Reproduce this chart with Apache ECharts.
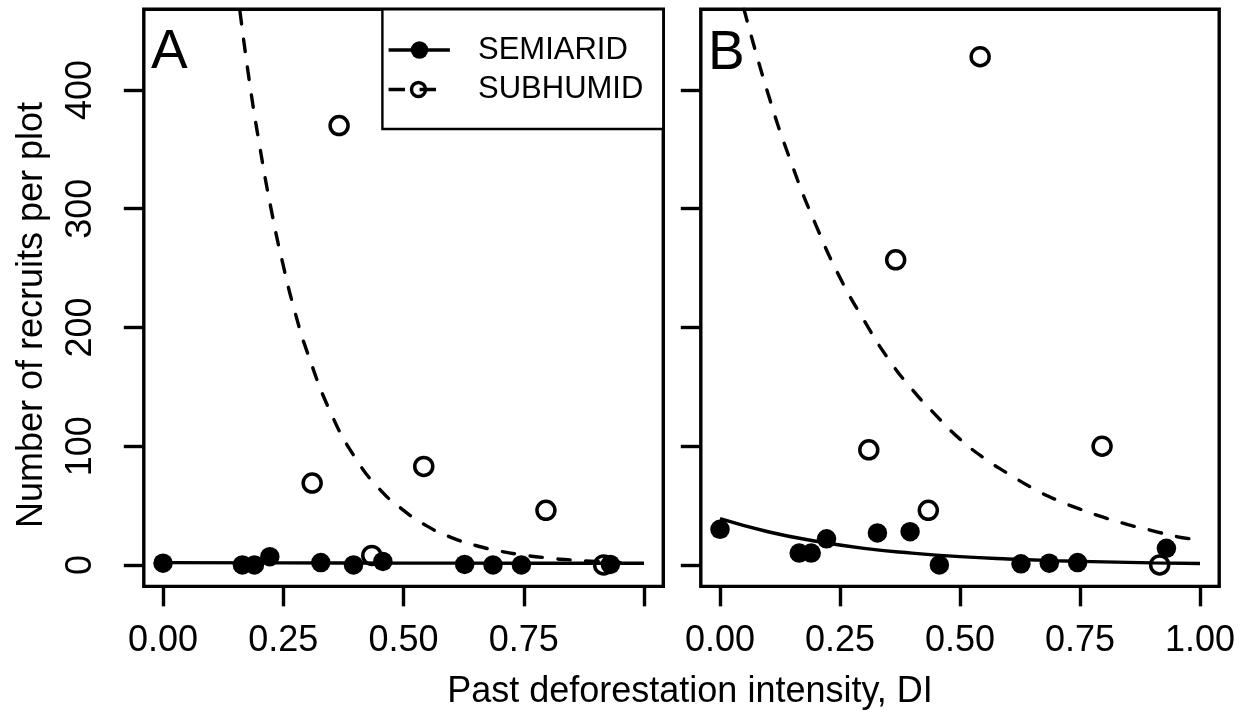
<!DOCTYPE html>
<html>
<head>
<meta charset="utf-8">
<script src="https://cdn.jsdelivr.net/npm/echarts@6/dist/echarts.min.js"></script>
<style>
html,body{margin:0;padding:0;background:#fff;}
#chart{width:1253px;height:721px;}
</style>
</head>
<body>
<div id="chart"></div>
<script>
// ---- data ----
const xTicks = [0, 0.25, 0.5, 0.75, 1.0];
const xLabelsA = [0, 0.25, 0.5, 0.75];
const xLabelsB = [0, 0.25, 0.5, 0.75, 1.0];
const yTicks = [0, 100, 200, 300, 400];

// plot deforestation intensity (DI) values
const diSemi = [0.000, 0.165, 0.190, 0.222, 0.328, 0.396, 0.457, 0.627, 0.686, 0.745, 0.930];
const diSub  = [0.310, 0.366, 0.434, 0.542, 0.796, 0.916];

// panel A: recruits per plot
const semiA = [1.5, 0, 0, 7, 2, 0, 3, 0.5, 0, 0, 0.5];
const subA  = [69, 370, 8, 83, 46, 0];
// panel B: recruits per plot
const semiB = [30, 10, 10, 22, 27, 28, 0, 1, 1.5, 2, 14];
const subB  = [97, 257, 46, 428, 100, 0];

// fitted curves
const fitSemiAx = [0, 0.25, 0.5, 0.75, 1.0];
const fitSemiAy = [2, 1.8, 1.6, 1.5, 1.4];
const fitSubAx = [0.16, 0.18, 0.20, 0.225, 0.25, 0.275, 0.30, 0.35, 0.40, 0.45, 0.50, 0.55, 0.60, 0.65, 0.70, 0.75, 0.80, 0.85, 0.90, 0.95];
const fitSubAy = [466, 406, 355, 299, 252, 212, 179, 127, 90, 64, 46, 32.5, 23, 16.4, 11.7, 8.3, 5.9, 4.2, 3.0, 2.1];
const fitSemiBx = [0, 0.1, 0.2, 0.3, 0.4, 0.5, 0.6, 0.7, 0.8, 0.9, 1.0];
const fitSemiBy = [39, 28, 20, 14, 10, 7, 5, 3.6, 2.6, 1.8, 1.3];
const fitSubBx = [0.05, 0.10, 0.15, 0.20, 0.25, 0.30, 0.35, 0.40, 0.45, 0.50, 0.55, 0.60, 0.65, 0.70, 0.75, 0.80, 0.85, 0.90, 0.95, 0.98];
const fitSubBy = [468, 397, 337, 286, 242, 206, 174, 148, 126, 106, 90, 77, 65, 55, 47, 40, 34, 29, 24, 22];

const legendNames = ['SEMIARID', 'SUBHUMID'];
const panelNames = ['A', 'B'];
const xTitle = 'Past deforestation intensity, DI';
const yTitle = 'Number of recruits per plot';

// ---- helpers ----
const zip = (xs, ys) => xs.map((x, i) => [x, ys[i]]);
const FONT = '"Liberation Sans", Arial, Helvetica, sans-serif';
const LW = 3.4;

function xAxisCfg(idx, labels) {
  return {
    type: 'value', gridIndex: idx, min: -0.04, max: 1.04,
    axisLine: { show: false, onZero: false },
    splitLine: { show: false },
    axisTick: { show: true, inside: false, length: 20, customValues: xTicks,
      lineStyle: { color: '#000', width: LW } },
    axisLabel: { show: true, customValues: labels, margin: 37, fontSize: 36,
      fontFamily: FONT, color: '#000', formatter: v => Number(v).toFixed(2) }
  };
}
function yAxisCfg(idx, showLabels) {
  return {
    type: 'value', gridIndex: idx, min: -18, max: 468,
    axisLine: { show: false, onZero: false },
    splitLine: { show: false },
    axisTick: { show: true, inside: false, length: 20, customValues: yTicks,
      lineStyle: { color: '#000', width: LW } },
    axisLabel: { show: showLabels, customValues: yTicks, margin: 45, rotate: 90,
      fontSize: 36, fontFamily: FONT, color: '#000', formatter: v => String(v) }
  };
}
function scatterFilled(idx, xs, ys) {
  return { type: 'scatter', xAxisIndex: idx, yAxisIndex: idx, data: zip(xs, ys),
    symbol: 'circle', symbolSize: 19.5, silent: true, z: 4,
    itemStyle: { color: '#000', opacity: 1 } };
}
function scatterOpen(idx, xs, ys) {
  return { type: 'scatter', xAxisIndex: idx, yAxisIndex: idx, data: zip(xs, ys),
    symbol: 'circle', symbolSize: 18, silent: true, z: 4,
    itemStyle: { color: 'rgba(0,0,0,0)', borderColor: '#000', borderWidth: 3.5, opacity: 1 } };
}
function fitLine(idx, xs, ys, dashed) {
  return { type: 'line', xAxisIndex: idx, yAxisIndex: idx, data: zip(xs, ys),
    smooth: true, showSymbol: false, symbol: 'none', silent: true, clip: true, z: 3,
    lineStyle: { color: '#000', width: LW, type: dashed ? [12.5, 15.5] : 'solid', cap: dashed ? 'round' : 'butt' } };
}

const chart = echarts.init(document.getElementById('chart'), null, { renderer: 'canvas' });

const gridA = { left: 143.8, top: 9.25, width: 519.5, height: 577.1 };
const gridB = { left: 700.8, top: 9.25, width: 518.4, height: 577.1 };
const gridStyle = { show: true, borderColor: '#000', borderWidth: LW, backgroundColor: 'rgba(0,0,0,0)', containLabel: false };

const option = {
  animation: false,
  backgroundColor: '#fff',
  grid: [Object.assign({}, gridA, gridStyle), Object.assign({}, gridB, gridStyle)],
  xAxis: [xAxisCfg(0, xLabelsA), xAxisCfg(1, xLabelsB)],
  yAxis: [yAxisCfg(0, true), yAxisCfg(1, false)],
  series: [
    fitLine(0, fitSemiAx, fitSemiAy, false),
    fitLine(0, fitSubAx, fitSubAy, true),
    scatterFilled(0, diSemi, semiA),
    scatterOpen(0, diSub, subA),
    fitLine(1, fitSemiBx, fitSemiBy, false),
    fitLine(1, fitSubBx, fitSubBy, true),
    scatterFilled(1, diSemi, semiB),
    scatterOpen(1, diSub, subB)
  ],
  graphic: [
    // panel letters
    { type: 'text', x: 151, y: 53, z: 50, style: { text: panelNames[0], font: '55px ' + FONT, fill: '#000',
      align: 'left', verticalAlign: 'middle', textAlign: 'left', textVerticalAlign: 'middle' } },
    { type: 'text', x: 708, y: 54, z: 50, style: { text: panelNames[1], font: '55px ' + FONT, fill: '#000',
      align: 'left', verticalAlign: 'middle', textAlign: 'left', textVerticalAlign: 'middle' } },
    // legend box
    { type: 'rect', z: 60, shape: { x: 382.4, y: 9.25, width: 280.9, height: 119.8 },
      style: { fill: '#fff', stroke: '#000', lineWidth: 2.4 } },
    { type: 'line', z: 61, shape: { x1: 388.6, y1: 50, x2: 449.9, y2: 50 },
      style: { stroke: '#000', lineWidth: LW } },
    { type: 'circle', z: 62, shape: { cx: 419.5, cy: 50, r: 8.7 }, style: { fill: '#000' } },
    { type: 'line', z: 61, shape: { x1: 388.6, y1: 89.5, x2: 449.9, y2: 89.5 },
      style: { stroke: '#000', lineWidth: LW, lineDash: [16.4, 14.6] } },
    { type: 'circle', z: 62, shape: { cx: 418.5, cy: 89.5, r: 7 },
      style: { fill: 'none', stroke: '#000', lineWidth: 3.4 } },
    { type: 'text', x: 478, y: 50.5, z: 62, style: { text: legendNames[0], font: '31px ' + FONT, fill: '#000',
      align: 'left', verticalAlign: 'middle', textAlign: 'left', textVerticalAlign: 'middle' } },
    { type: 'text', x: 478, y: 89.5, z: 62, style: { text: legendNames[1], font: '31px ' + FONT, fill: '#000',
      align: 'left', verticalAlign: 'middle', textAlign: 'left', textVerticalAlign: 'middle' } },
    // axis titles
    { type: 'text', x: 690, y: 692, z: 50, style: { text: xTitle, font: '36px ' + FONT, fill: '#000',
      align: 'center', verticalAlign: 'middle', textAlign: 'center', textVerticalAlign: 'middle' } },
    { type: 'text', x: 32, y: 315, rotation: Math.PI / 2, z: 50, style: { text: yTitle, font: '36px ' + FONT, fill: '#000',
      align: 'center', verticalAlign: 'middle', textAlign: 'center', textVerticalAlign: 'middle' } }
  ]
};
chart.setOption(option);
</script>
</body>
</html>
